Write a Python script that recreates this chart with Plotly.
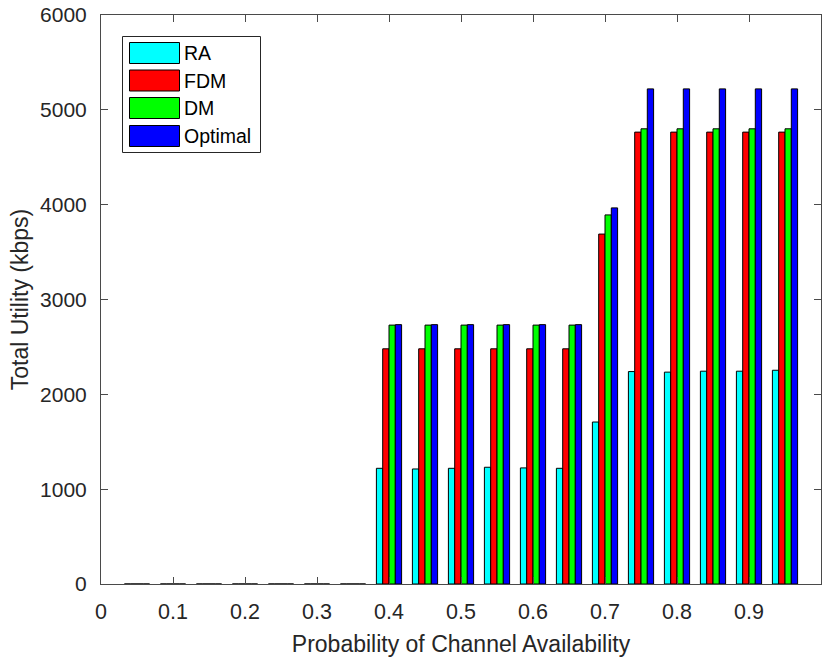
import plotly.graph_objects as go

# Channel availability probabilities (bar group positions)
probability = [0.05, 0.10, 0.15, 0.20, 0.25, 0.30, 0.35, 0.40, 0.45, 0.50,
               0.55, 0.60, 0.65, 0.70, 0.75, 0.80, 0.85, 0.90, 0.95]

# Total utility (kbps) for each scheme
ra = [0, 0, 0, 0, 0, 0, 0, 1220, 1213, 1220, 1231, 1224, 1220, 1708,
      2240, 2234, 2244, 2244, 2254]
fdm = [0, 0, 0, 0, 0, 0, 0, 2480, 2480, 2480, 2480, 2480, 2480, 3690,
       4765, 4765, 4765, 4765, 4765]
dm = [0, 0, 0, 0, 0, 0, 0, 2730, 2730, 2730, 2730, 2730, 2730, 3892,
      4800, 4800, 4800, 4800, 4800]
optimal = [0, 0, 0, 0, 0, 0, 0, 2735, 2735, 2735, 2735, 2735, 2735, 3966,
           5221, 5221, 5221, 5221, 5221]

series_names = ["RA", "FDM", "DM", "Optimal"]
series_values = [ra, fdm, dm, optimal]
series_colors = ["#00FFFF", "#FF0000", "#00FF00", "#0000FF"]

x_ticks = [0, 0.1, 0.2, 0.3, 0.4, 0.5, 0.6, 0.7, 0.8, 0.9, 1]
y_ticks = [0, 1000, 2000, 3000, 4000, 5000, 6000]

W, H = 823, 660
PL, PR, PT, PB = 101, 821, 15, 584  # plot area edges in pixels

FONT = "Liberation Sans, Arial, Helvetica, sans-serif"
TEXT = "#262626"
AXIS = "#4a4a4a"

fig = go.Figure()
for name, vals, col in zip(series_names, series_values, series_colors):
    fig.add_trace(go.Bar(
        x=probability, y=vals, name=name,
        marker=dict(color=col, line=dict(color="black", width=1)),
        showlegend=False,
    ))


def px_x(p):
    return (p - PL) / (PR - PL)


def px_y(p):
    return 1 - (p - PT) / (PB - PT)


# Legend box with wide colour swatches
shapes = [dict(type="rect", xref="paper", yref="paper",
               x0=px_x(122.5), x1=px_x(260.5), y0=px_y(152.5), y1=px_y(36.5),
               line=dict(color=TEXT, width=1), fillcolor="white", layer="above")]
annotations = []
row_tops = [42.5, 70.0, 97.5, 125.5]
for name, col, top in zip(series_names, series_colors, row_tops):
    shapes.append(dict(type="rect", xref="paper", yref="paper",
                       x0=px_x(129.5), x1=px_x(179.5),
                       y0=px_y(top + 21), y1=px_y(top),
                       line=dict(color="black", width=1), fillcolor=col,
                       layer="above"))
    annotations.append(dict(xref="paper", yref="paper",
                            x=px_x(182), y=px_y(top + 10.5),
                            xanchor="left", yanchor="middle",
                            text=name, showarrow=False,
                            font=dict(family=FONT, size=19.5, color="black")))

fig.update_layout(
    width=W, height=H,
    margin=dict(l=PL, r=W - PR, t=PT, b=H - PB, pad=0),
    paper_bgcolor="white", plot_bgcolor="white",
    barmode="group", bargap=0.3, bargroupgap=0,
    font=dict(family=FONT, size=21, color=TEXT),
    shapes=shapes, annotations=annotations,
    showlegend=False,
)
fig.update_xaxes(
    range=[0, 1], tickvals=x_ticks, ticktext=[f"{v:g}" for v in x_ticks],
    ticks="inside", ticklen=7, tickcolor=AXIS, tickwidth=1,
    showline=True, linecolor=AXIS, linewidth=1, mirror="ticks",
    showgrid=False, zeroline=False,
    tickfont=dict(size=21.5, color=TEXT), ticklabelstandoff=8,
    title=dict(text="Probability of Channel Availability",
               font=dict(size=23, color=TEXT), standoff=13),
)
fig.update_yaxes(
    range=[0, 6000], tickvals=y_ticks, ticktext=[str(v) for v in y_ticks],
    ticks="inside", ticklen=7, tickcolor=AXIS, tickwidth=1,
    showline=True, linecolor=AXIS, linewidth=1, mirror="ticks",
    showgrid=False, zeroline=False,
    tickfont=dict(size=21, color=TEXT), ticklabelstandoff=9,
    title=dict(text="Total Utility (kbps)",
               font=dict(size=23, color=TEXT), standoff=5),
)

fig.write_html("out.html")
